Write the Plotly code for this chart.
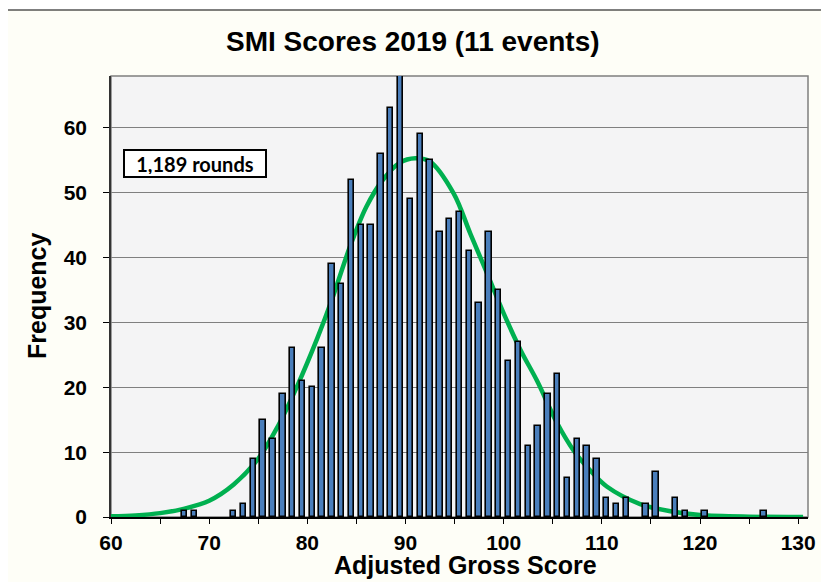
import plotly.graph_objects as go

# Histogram data (score -> number of rounds)
scores = [67, 68, 72, 73, 74, 75, 76, 77, 78, 79, 80, 81, 82, 83, 84, 85, 86, 87, 88, 89,
          90, 91, 92, 93, 94, 95, 96, 97, 98, 99, 100, 101, 102, 103, 104, 105, 106, 107,
          108, 109, 110, 111, 112, 114, 115, 117, 118, 120, 126]
counts = [1, 1, 1, 2, 9, 15, 12, 19, 26, 21, 20, 26, 39, 36, 52, 45, 45, 56, 63, 69,
          49, 59, 55, 44, 46, 47, 41, 33, 44, 35, 24, 27, 11, 14, 19, 22, 6, 12,
          11, 9, 3, 2, 3, 2, 7, 3, 1, 1, 1]

# Fitted normal curve
curve_x = [60, 62.5, 65, 67.5, 70, 72.5, 75, 77, 79, 81, 82.5, 84.3, 86, 87.7, 89.4, 91,
           92.5, 94.9, 96.6, 98.3, 100, 101.7, 103.4, 105.4, 107.1, 108.8, 110.5,
           113.9, 117.3, 120, 125, 130.5]
curve_y = [0.1, 0.25, 0.6, 1.3, 2.5, 5.0, 9.0, 14.0, 20.3, 27.5, 33.5, 41.5, 47.8, 52.0,
           54.6, 55.3, 54.8, 49.9, 43.7, 37.6, 31.4, 25.8, 21.0, 14.6, 10.3, 7.2, 4.7,
           2.0, 0.8, 0.3, 0.05, 0.0]

x_ticks = [60, 70, 80, 90, 100, 110, 120, 130]
y_ticks = [0, 10, 20, 30, 40, 50, 60]

title_text = "SMI Scores 2019 (11 events)"
x_title = "Adjusted Gross Score"
y_title = "Frequency"
note_text = "1,189 rounds"

FONT = "Liberation Sans, Arial, sans-serif"

# The page body adds an 8px margin; lay the figure out in page pixels minus that offset
OFF = 8
W, H = 829 - OFF, 582 - OFF
L, R, T, B = 111 - OFF, 808 - OFF, 76 - OFF, 517 - OFF
pw, ph = R - L, B - T

def px(xp):
    return (xp - OFF - L) / pw

def py(yp):
    return (B - (yp - OFF)) / ph

fig = go.Figure()

fig.add_trace(go.Bar(
    x=scores, y=counts, xaxis="x2", yaxis="y",
    width=0.55,
    marker=dict(color="#4A7EBB", line=dict(color="#000000", width=1.6)),
    showlegend=False, hoverinfo="x+y",
))

fig.add_trace(go.Scatter(
    x=curve_x, y=curve_y, mode="lines",
    line=dict(color="#00B050", width=4.5, shape="spline", smoothing=1.0),
    showlegend=False, hoverinfo="skip", cliponaxis=False,
))

shapes = [
    # chart area (cream with black border)
    dict(type="rect", xref="paper", yref="paper", x0=px(7), x1=px(822), y0=py(600), y1=py(10),
         fillcolor="#FEFEF7", line=dict(color="#000000", width=1.2), layer="below"),
    # plot area
    dict(type="rect", xref="paper", yref="paper", x0=0, x1=1, y0=0, y1=1,
         fillcolor="#F4F4F5", line=dict(color="#7F7F7F", width=1.5), layer="below"),
]

annotations = [
    dict(text=title_text, xref="paper", yref="paper", x=px(413), y=py(41),
         showarrow=False, xanchor="center", yanchor="middle",
         font=dict(family=FONT, size=28, weight="bold", color="#000000")),
    dict(text=x_title, xref="paper", yref="paper", x=px(466), y=py(565),
         showarrow=False, xanchor="center", yanchor="middle",
         font=dict(family=FONT, size=25, weight="bold", color="#000000")),
    dict(text=y_title, xref="paper", yref="paper", x=px(37), y=py(296),
         showarrow=False, xanchor="center", yanchor="middle", textangle=-90,
         font=dict(family=FONT, size=25, weight="bold", color="#000000")),
    dict(text=note_text, xref="paper", yref="paper", x=px(195), y=py(163.5),
         showarrow=False, xanchor="center", yanchor="middle",
         width=136, height=21,
         bgcolor="#FFFFFF", bordercolor="#000000", borderwidth=2, borderpad=2,
         font=dict(family="Lato, Open Sans, sans-serif", size=20, weight="bold", color="#000000")),
]

fig.update_layout(
    width=W, height=H,
    margin=dict(l=L, r=W - R, t=T, b=H - B, autoexpand=False),
    paper_bgcolor="#FFFFFF",
    plot_bgcolor="rgba(0,0,0,0)",
    bargap=0,
    shapes=shapes,
    annotations=annotations,
    font=dict(family=FONT, color="#000000"),
    xaxis=dict(
        range=[60, 131], tickvals=x_ticks, ticktext=[str(v) for v in x_ticks],
        ticks="outside", ticklen=5, tickwidth=1.2, tickcolor="#000000",
        minor=dict(dtick=5, tick0=60, ticks="outside", ticklen=5, tickwidth=1.2, tickcolor="#000000"),
        showgrid=False, zeroline=False,
        showline=True, linecolor="#000000", linewidth=1.5,
        tickfont=dict(family=FONT, size=21, weight="bold", color="#000000"),
        ticklabelstandoff=1,
    ),
    xaxis2=dict(
        range=[59.5, 130.5], overlaying="x", visible=False,
    ),
    yaxis=dict(
        range=[0, 68], tickvals=y_ticks,
        ticks="outside", ticklen=6, tickwidth=1.2, tickcolor="#000000",
        showgrid=True, gridcolor="#7F7F7F", gridwidth=1.3,
        zeroline=False,
        showline=True, linecolor="#333333", linewidth=1.5,
        tickfont=dict(family=FONT, size=21, weight="bold", color="#000000"),
        ticklabelstandoff=12,
    ),
)

fig.write_html("out.html")
